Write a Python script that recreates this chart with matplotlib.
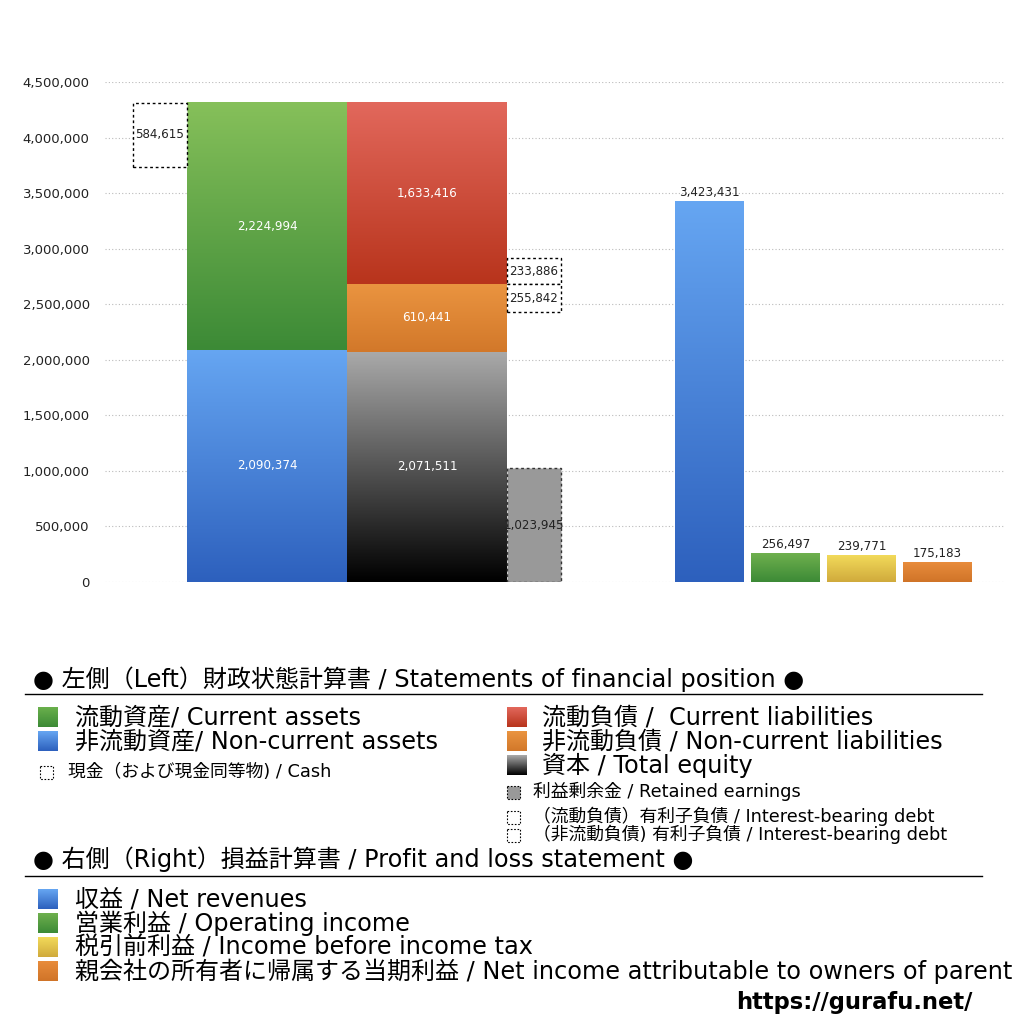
import numpy as np
import matplotlib
matplotlib.use("Agg")
import matplotlib.pyplot as plt
from matplotlib.colors import LinearSegmentedColormap
from matplotlib.patches import Rectangle
from matplotlib.ticker import FuncFormatter

plt.rcParams['font.family'] = ['DejaVu Sans', 'Noto Sans CJK JP']

# ---- data ----
current_assets = 2224994
noncurrent_assets = 2090374
cash = 584615
current_liab = 1633416
noncurrent_liab = 610441
equity = 2071511
retained = 1023945
debt_current = 233886
debt_noncurrent = 255842
pl_labels = ["Net revenues", "Operating income", "Income before income tax", "Net income"]
pl_values = [3423431, 256497, 239771, 175183]
yticks = [0, 500000, 1000000, 1500000, 2000000, 2500000, 3000000, 3500000, 4000000, 4500000]

fig = plt.figure(figsize=(10.24, 10.24), dpi=100)
ax = fig.add_axes([105/1024, 1-582/1024, 900/1024, 500/1024])

def grad(ax, bar, top, bottom, z=2):
    x0, y0 = bar.get_x(), bar.get_y()
    w, h = bar.get_width(), bar.get_height()
    cmap = LinearSegmentedColormap.from_list('g', [top, bottom])
    arr = np.linspace(0, 1, 256).reshape(-1, 1)
    ax.imshow(arr, cmap=cmap, extent=[x0, x0+w, y0, y0+h], origin='upper',
              aspect='auto', zorder=z, interpolation='bilinear')

def label_in(ax, bar, value, color='white', clip=False):
    cx = bar.get_x() + bar.get_width()/2
    cy = bar.get_y() + bar.get_height()/2
    t = ax.text(cx, cy, f"{value:,}", ha='center', va='center', color=color,
                fontsize=8.6, zorder=6)
    if clip:
        t.set_clip_path(bar)
    return t

# asset column
b_nca = ax.bar(162, noncurrent_assets, width=160, color='#4a86db', zorder=1)[0]
b_ca = ax.bar(162, current_assets, width=160, bottom=noncurrent_assets, color='#5fa046', zorder=1)[0]
grad(ax, b_nca, '#66a6f2', '#2d60bd')
grad(ax, b_ca, '#86c05a', '#3c8a36')
label_in(ax, b_nca, noncurrent_assets)
label_in(ax, b_ca, current_assets)

# cash box
total_assets = current_assets + noncurrent_assets
b_cash = ax.bar(55, cash, width=54, bottom=total_assets - cash, facecolor='white',
                edgecolor='black', linestyle=(0, (2, 2)), linewidth=1.0, zorder=3)[0]
label_in(ax, b_cash, cash, color='#222222')

# liability column
b_eq = ax.bar(322, equity, width=160, color='#555555', zorder=1)[0]
b_ncl = ax.bar(322, noncurrent_liab, width=160, bottom=equity, color='#e08838', zorder=1)[0]
b_cl = ax.bar(322, current_liab, width=160, bottom=equity + noncurrent_liab, color='#cc4a36', zorder=1)[0]
grad(ax, b_eq, '#aaaaaa', '#000000')
grad(ax, b_ncl, '#ea9440', '#d2782a')
grad(ax, b_cl, '#e2685c', '#b8341c')
label_in(ax, b_eq, equity)
label_in(ax, b_ncl, noncurrent_liab)
label_in(ax, b_cl, current_liab)

# retained earnings and interest-bearing debt boxes
b_re = ax.bar(429, retained, width=54, facecolor='#999999', edgecolor='#333333',
              linestyle=(0, (2, 2)), linewidth=1.0, zorder=3)[0]
label_in(ax, b_re, retained, color='#222222', clip=True)
split = equity + noncurrent_liab
b_dc = ax.bar(429, debt_current, width=54, bottom=split, facecolor='white',
              edgecolor='black', linestyle=(0, (2, 2)), linewidth=1.0, zorder=3)[0]
b_dn = ax.bar(429, debt_noncurrent, width=54, bottom=split - debt_noncurrent, facecolor='white',
              edgecolor='black', linestyle=(0, (2, 2)), linewidth=1.0, zorder=3)[0]
label_in(ax, b_dc, debt_current, color='#222222')
label_in(ax, b_dn, debt_noncurrent, color='#222222')

# P&L bars
pl_x = [604, 680.5, 756.5, 832.5]
pl_grads = [('#66a6f2', '#2d60bd'), ('#6fb04e', '#3c8a36'),
            ('#f2da5a', '#d0aa3c'), ('#e88c3c', '#d07428')]
bars = ax.bar(pl_x, pl_values, width=69, color=[g[1] for g in pl_grads], zorder=1)
for b, g, v in zip(bars, pl_grads, pl_values):
    grad(ax, b, g[0], g[1])
    ax.text(b.get_x() + b.get_width()/2, v + 25000, f"{v:,}", ha='center', va='bottom',
            fontsize=8.6, color='#222222', zorder=6)

ax.set_xlim(0, 900)
ax.set_ylim(0, 4500000)
ax.set_yticks(yticks)
ax.yaxis.set_major_formatter(FuncFormatter(lambda v, p: f"{int(v):,}"))
ax.tick_params(axis='y', length=0, pad=11, labelsize=9.5, labelcolor='#222222')
ax.set_xticks([])
ax.grid(axis='y', linestyle=(0, (1, 2)), color='#bbbbbb', linewidth=0.8, zorder=0)
ax.set_axisbelow(True)
for s in ax.spines.values():
    s.set_visible(False)

# ---- legend area (pixel coordinates overlay) ----
lg = fig.add_axes([0, 0, 1, 1], zorder=-1)
lg.set_xlim(0, 1024)
lg.set_ylim(1024, 0)
lg.axis('off')

def swatch(x, y, size, top=None, bottom=None, face=None):
    if top is not None:
        cmap = LinearSegmentedColormap.from_list('s', [top, bottom])
        arr = np.linspace(0, 1, 64).reshape(-1, 1)
        lg.imshow(arr, cmap=cmap, extent=[x, x+size, y+size/2, y-size/2], origin='upper',
                  aspect='auto', interpolation='bilinear')
    else:
        lg.add_patch(Rectangle((x, y-size/2), size, size, facecolor=face or 'white',
                               edgecolor='black', linestyle=(0, (1.5, 1.5)), linewidth=0.8))

big = 17.3
small = 12.8

def btext(x, y, s, size=big, **kw):
    off = 7.5 if size > 14 else 5
    lg.text(x, y + off, s, fontsize=size, va='baseline', ha='left', **kw)

btext(33, 680, "● 左側（Left）財政状態計算書 / Statements of financial position ●")
lg.plot([25, 982], [694, 694], color='black', linewidth=1)

swatch(38, 717, 20, '#6ab04c', '#3c8a36')
btext(75, 717, "流動資産/ Current assets")
swatch(38, 741, 20, '#66a6f2', '#2d60bd')
btext(75, 741, "非流動資産/ Non-current assets")
swatch(40, 772, 13)
btext(68, 772, "現金（および現金同等物) / Cash", small)

swatch(507, 717, 20, '#e2685c', '#b8341c')
btext(542, 717, "流動負債 /  Current liabilities")
swatch(507, 741, 20, '#ea9440', '#d2782a')
btext(542, 741, "非流動負債 / Non-current liabilities")
swatch(507, 765, 20, '#aaaaaa', '#000000')
btext(542, 765, "資本 / Total equity")
swatch(507, 792, 13, face='#999999')
btext(533, 792, "利益剰余金 / Retained earnings", small)
swatch(507, 817, 13)
btext(533, 817, "（流動負債）有利子負債 / Interest-bearing debt", small)
swatch(507, 835, 13)
btext(533, 835, "（非流動負債) 有利子負債 / Interest-bearing debt", small)

btext(33, 860, "● 右側（Right）損益計算書 / Profit and loss statement ●")
lg.plot([25, 982], [876, 876], color='black', linewidth=1)

pl_texts = ["収益 / Net revenues", "営業利益 / Operating income",
            "税引前利益 / Income before income tax",
            "親会社の所有者に帰属する当期利益 / Net income attributable to owners of parent"]
for i, (t, g) in enumerate(zip(pl_texts, pl_grads)):
    yy = 899 + 24 * i
    swatch(38, yy, 20, g[0], g[1])
    btext(75, yy, t)

lg.text(972, 1002, "https://gurafu.net/", fontsize=16.3, fontweight='bold', ha='right', va='center')

fig.savefig("out.png", dpi=100, facecolor='white')
